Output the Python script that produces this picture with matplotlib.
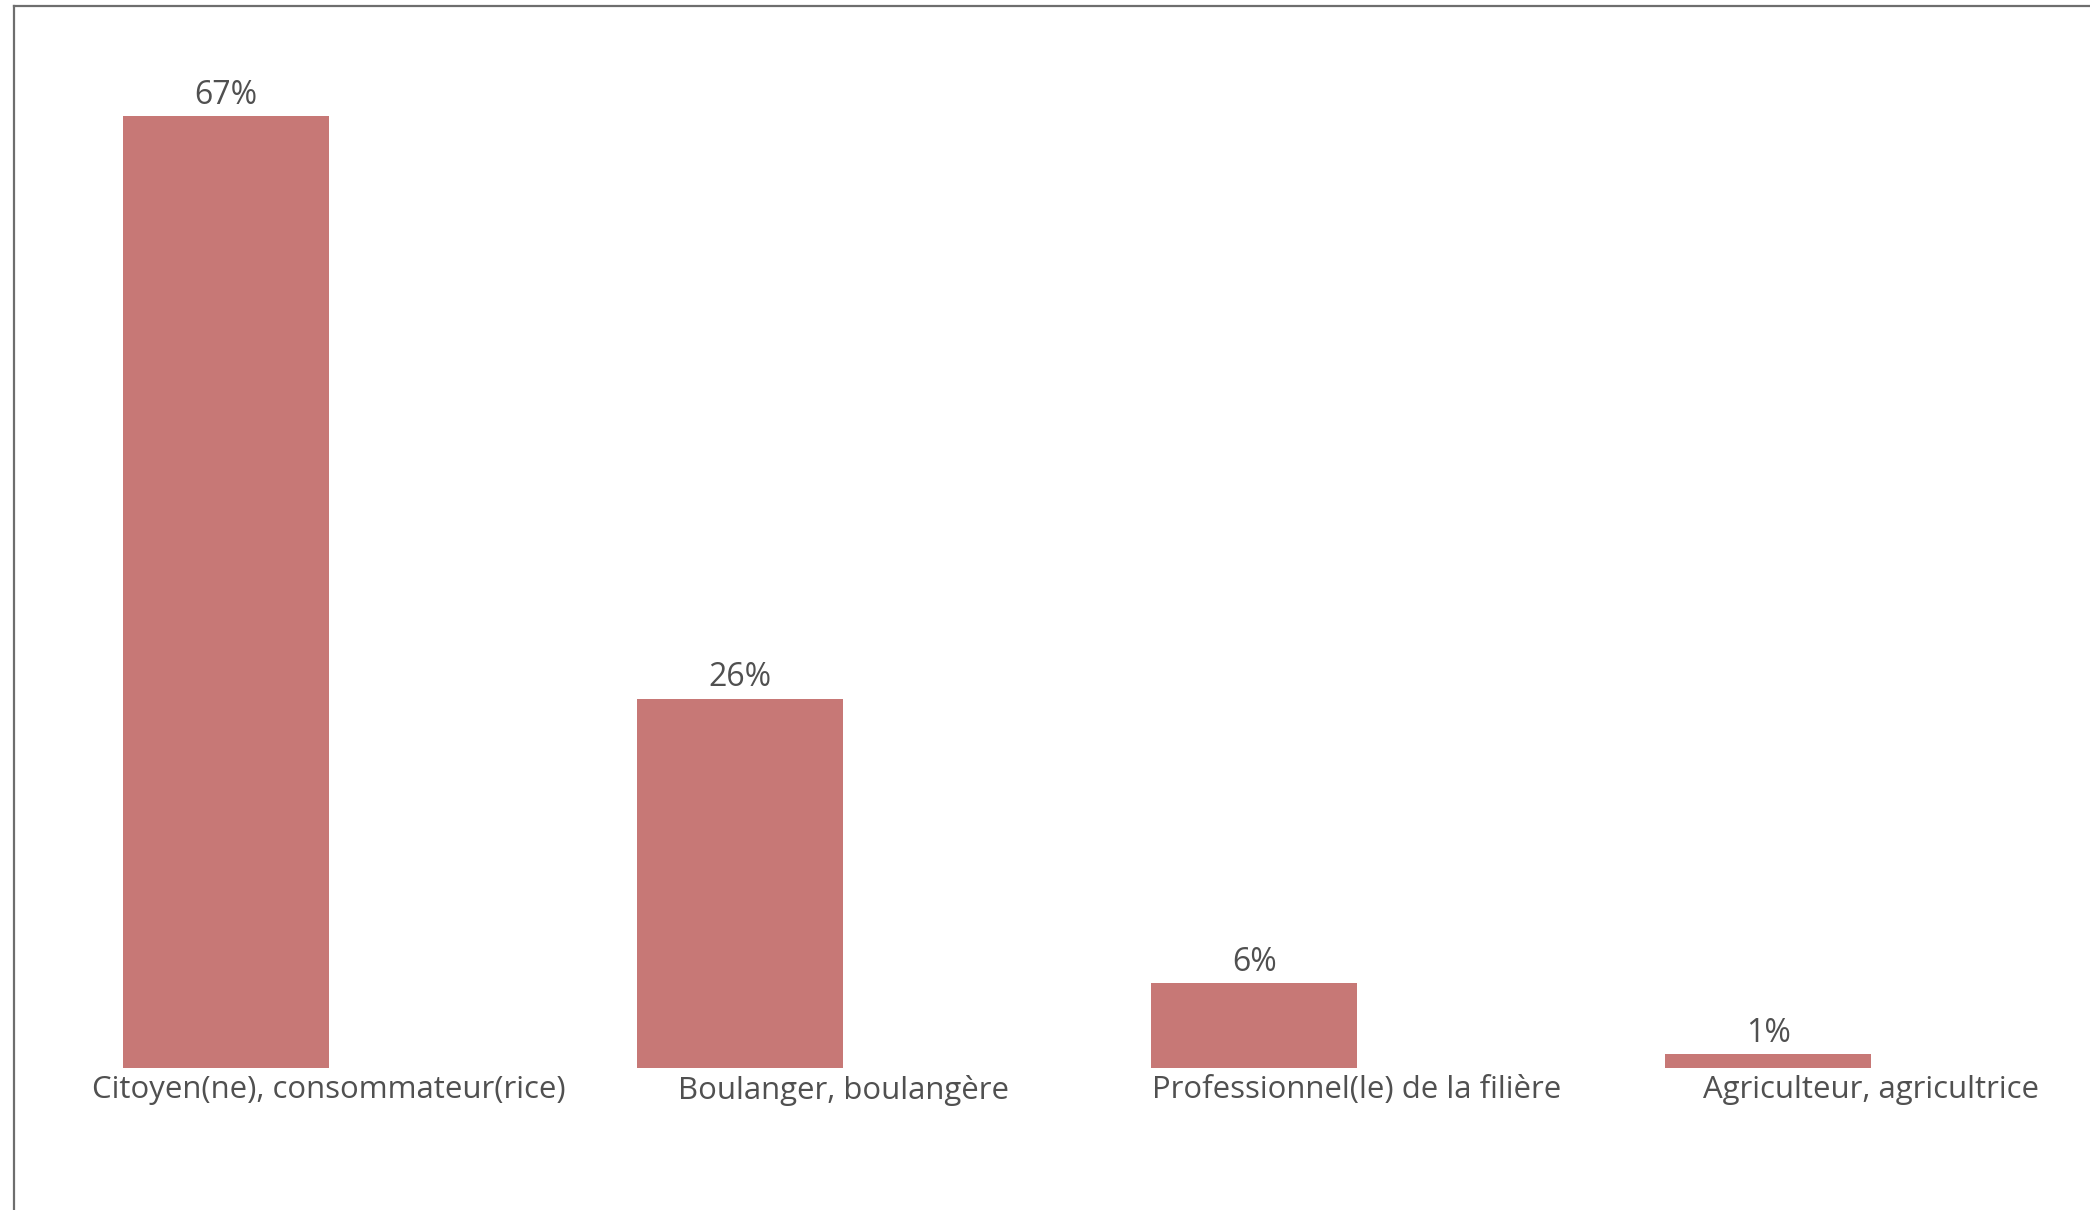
import matplotlib
matplotlib.use("Agg")
import matplotlib.pyplot as plt
from matplotlib.lines import Line2D

categories = [
    "Citoyen(ne), consommateur(rice)",
    "Boulanger, boulangère",
    "Professionnel(le) de la filière",
    "Agriculteur, agricultrice",
]
values = [67, 26, 6, 1]
labels = ["67%", "26%", "6%", "1%"]

bar_color = "#C77876"
text_color = "#505050"
font = ["Open Sans", "DejaVu Sans"]

W, H = 2090, 1210
fig = plt.figure(figsize=(W / 100, H / 100), dpi=100)
fig.patch.set_facecolor("white")

# axes placed so the bar baseline sits at y=1068 px
ax = fig.add_axes([20.6 / W, (H - 1068) / H, 2056 / W, 994.7 / H])
x = list(range(len(categories)))

# bars sit just left of their tick (width -0.4, aligned to the edge)
bars = ax.bar(x, values, width=-0.4, align="edge", color=bar_color)
for b, lab in zip(bars, labels):
    ax.annotate(lab, (b.get_x() + b.get_width() / 2, b.get_height()),
                xytext=(0, 3), textcoords="offset points",
                ha="center", va="bottom", fontsize=23,
                color=text_color, family=font)

ax.set_xlim(-0.6, 3.4)
ax.set_ylim(0, 70)
ax.set_xticks(x)
ax.set_xticklabels(categories, fontsize=22.4, color=text_color, family=font)
ax.tick_params(axis="x", length=0, pad=5)
ax.set_yticks([])
for s in ax.spines.values():
    s.set_visible(False)

# thin frame on the left and top edges
fig.add_artist(Line2D([14 / W, 14 / W], [0, 1 - 6 / H], color="#6e6e6e",
                      lw=1.6, transform=fig.transFigure))
fig.add_artist(Line2D([14 / W, 1], [1 - 6 / H, 1 - 6 / H], color="#6e6e6e",
                      lw=1.6, transform=fig.transFigure))

fig.savefig("out.png", dpi=100, facecolor="white")
